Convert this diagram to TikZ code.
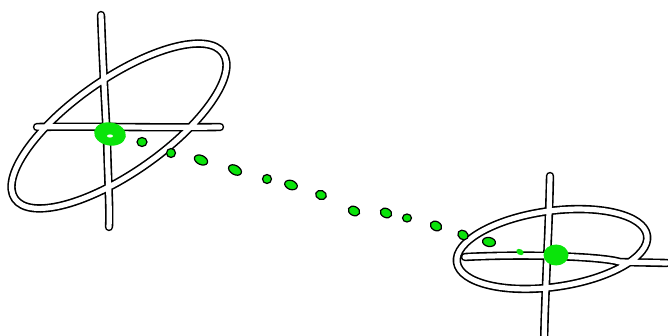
\documentclass[tikz,border=0pt]{standalone}
\begin{document}
\begin{tikzpicture}[x=1pt,y=-1pt,line cap=round,line join=round]
\definecolor{blobgreen}{RGB}{10,228,10}
\tikzset{
  outerstroke/.style={draw=black,line width=8.4pt},
  innerstroke/.style={draw=white,line width=5.2pt},
  dot/.style={fill=blobgreen,draw=black,line width=1.2pt},
  blob/.style={fill=blobgreen,draw=none}
}
\fill[white] (0,0) rectangle (668,336);
\useasboundingbox (0,0) rectangle (668,336);
% shape paths
\def\leftfig{
  (101,15) .. controls (103,70) and (106,120) .. (107,140) .. controls (108,180) and (110,210) .. (109,227)
  (37,127) .. controls (90,126) and (150,128) .. (220,127)
  [shift={(119,126)},rotate=35] (0,0) ellipse (127 and 47)
}
\def\rightfig{
  (550,176) .. controls (549,230) and (545,290) .. (544,345)
  (465,257) .. controls (520,254) and (600,256) .. (620,262) -- (667,263)
  [shift={(552,249)},rotate=8] (0,0) ellipse (96 and 38)
}
% black outlines first, white strokes on top
\path[outerstroke] \leftfig;
\path[outerstroke] \rightfig;
\path[innerstroke] \leftfig;
\path[innerstroke] \rightfig;
% big blobs
\fill[blob,rotate around={-10:(110,134)}] (110,134) ellipse (16 and 11.5);
\fill[white] (110,136) ellipse (3 and 1.6);
\fill[blob] (556,255) ellipse (12.5 and 10.5);
% dotted trail
\path[dot] (142,142) ellipse (5 and 4.5);
\path[dot] (171,153) ellipse (4.5 and 4.5);
\path[dot,rotate around={-25:(201,160)}] (201,160) ellipse (7 and 4.5);
\path[dot,rotate around={-30:(235,170)}] (235,170) ellipse (7 and 4.5);
\path[dot] (267,179) ellipse (4.5 and 4.5);
\path[dot,rotate around={-20:(291,185)}] (291,185) ellipse (6.5 and 4.5);
\path[dot,rotate around={-20:(321,195)}] (321,195) ellipse (5.5 and 4.5);
\path[dot,rotate around={-25:(354,211)}] (354,211) ellipse (6 and 4.5);
\path[dot,rotate around={-25:(386,213)}] (386,213) ellipse (6 and 4.5);
\path[dot] (407,218) ellipse (4.5 and 4);
\path[dot,rotate around={-30:(436,226)}] (436,226) ellipse (6 and 4.5);
\path[dot,rotate around={-35:(463,235)}] (463,235) ellipse (5.5 and 4.5);
\path[dot,rotate around={-10:(489,242)}] (489,242) ellipse (6.5 and 4.5);
\fill[blob,rotate around={-30:(520,252)}] (520,252) ellipse (4 and 2.8);
\end{tikzpicture}
\end{document}
